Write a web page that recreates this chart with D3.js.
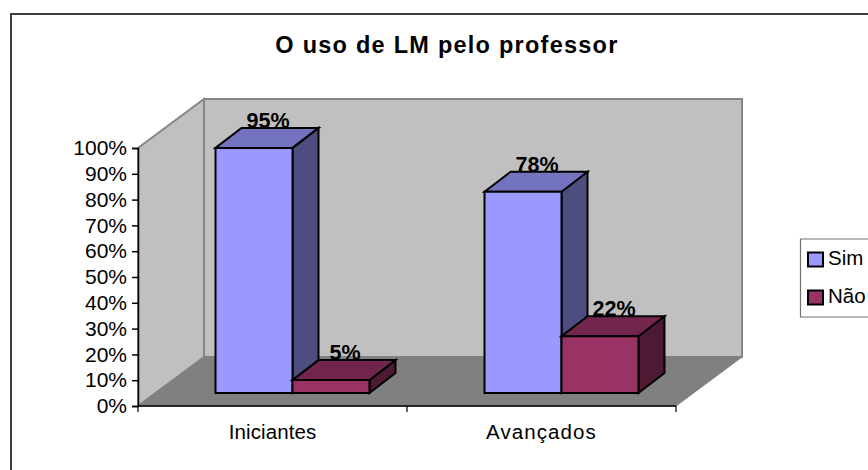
<!DOCTYPE html>
<html><head><meta charset="utf-8">
<script src="https://cdn.jsdelivr.net/npm/d3@7/dist/d3.min.js"></script>
<style>html,body{margin:0;padding:0;background:#fff}svg{display:block}text{font-family:"Liberation Sans",Arial,sans-serif;fill:#000}</style>
</head><body><svg id="c" width="868" height="470"></svg>
<script>
const categories=["Iniciantes","Avançados"];
const seriesNames=["Sim","Não"];
const simValues=[95,78];
const naoValues=[5,22];
const yTicks=[0,10,20,30,40,50,60,70,80,90,100];
const titleText="O uso de LM pelo professor";
const colors={Sim:{front:"#9999ff",top:"#7373bf",side:"#4d4d80"},"Não":{front:"#993366",top:"#73264d",side:"#4d1933"}};

const svg=d3.select("#c");
const W=868,H=470;
// frame
svg.append("path").attr("d",`M11,${H}V14H${W}`).attr("fill","none").attr("stroke","#3c3c3c").attr("stroke-width",2);
svg.append("text").attr("x",447).attr("y",53).attr("text-anchor","middle").attr("font-weight","bold").attr("font-size",23.5).attr("letter-spacing",1.25).text(titleText);

const x=d3.scaleBand().domain(categories).range([138,676]);
const y=d3.scaleLinear().domain([0,100]).range([406,148]);
const dep={x:66,y:-49}; // floor depth
const bar={x:26,y:-20}; // bar depth
const off={x:20,y:-13};  // bar front plane offset
const sub=d3.scaleBand().domain(seriesNames).range([0,x.bandwidth()]).paddingInner(0).paddingOuter(0.747);
const poly=(pts,fill,stroke,sw)=>svg.append("polygon").attr("points",pts.map(p=>p.join(",")).join(" ")).attr("fill",fill).attr("stroke",stroke).attr("stroke-width",sw).attr("stroke-linejoin","miter");

const xl=138,xr=676,y0=y(0),y100=y(100);
// walls
poly([[xl,y100],[xl+dep.x,y100+dep.y],[xl+dep.x,y0+dep.y],[xl,y0]],"#c0c0c0","#868686",2);
poly([[xl+dep.x,y100+dep.y],[xr+dep.x,y100+dep.y],[xr+dep.x,y0+dep.y],[xl+dep.x,y0+dep.y]],"#c0c0c0","#868686",2);
poly([[xl,y0],[xl+dep.x,y0+dep.y],[xr+dep.x,y0+dep.y],[xr,y0]],"#808080","#808080",1);

// axes
const yAxis=d3.axisLeft(y).tickValues(yTicks).tickFormat(d=>d+"%").tickSize(6).tickPadding(5);
const gy=svg.append("g").attr("transform",`translate(${xl},0)`).call(yAxis);
gy.selectAll("text").attr("font-size",21).style("font-family",'"Liberation Sans",Arial,sans-serif');
gy.selectAll("line,path").attr("stroke","#000").attr("stroke-width",1.5);
const gx=svg.append("g").attr("transform",`translate(0,${y0})`);
gx.append("line").attr("x1",xl).attr("x2",xr).attr("stroke","#000").attr("stroke-width",1.5);
[...categories.map(c=>x(c)),xr].forEach(v=>gx.append("line").attr("x1",v).attr("x2",v).attr("y1",0).attr("y2",6).attr("stroke","#000").attr("stroke-width",1.2));
const catSpacing=[0.1,1.1];
categories.forEach((c,i)=>svg.append("text").attr("x",x(c)+x.bandwidth()/2).attr("y",438.5).attr("text-anchor","middle").attr("font-size",20.5).attr("letter-spacing",catSpacing[i]).text(c));

// bars
const sw=2;
const vals={Sim:simValues,"Não":naoValues};
const topOf=v=>y(v)+off.y, base=topOf(0);
categories.forEach((c,i)=>{
  seriesNames.forEach(s=>{
    const v=vals[s][i],l=x(c)+sub(s)+off.x,r=l+sub.bandwidth(),t=topOf(v),col=colors[s];
    poly([[r,t],[r+bar.x,t+bar.y],[r+bar.x,base+bar.y],[r,base]],col.side,"#000",sw);
    poly([[l,t],[l+bar.x,t+bar.y],[r+bar.x,t+bar.y],[r,t]],col.top,"#000",sw);
    poly([[l,t],[r,t],[r,base],[l,base]],col.front,"#000",sw);
    svg.append("text").attr("x",(l+r)/2+bar.x/2+1).attr("y",t+bar.y).attr("text-anchor","middle").attr("font-weight","bold").attr("font-size",21.5).text(v+"%");
  });
});

// legend
svg.append("path").attr("d",`M${W},239H800.5V317H${W}`).attr("fill","#fff").attr("stroke","#707070").attr("stroke-width",1.2);
seriesNames.forEach((s,i)=>{
  const ly=252.5+i*38;
  svg.append("rect").attr("x",808).attr("y",ly).attr("width",15).attr("height",14).attr("fill",colors[s].front).attr("stroke","#000").attr("stroke-width",2);
  svg.append("text").attr("x",828).attr("y",ly+12.5).attr("font-size",20.5).text(s);
});
</script></body></html>
